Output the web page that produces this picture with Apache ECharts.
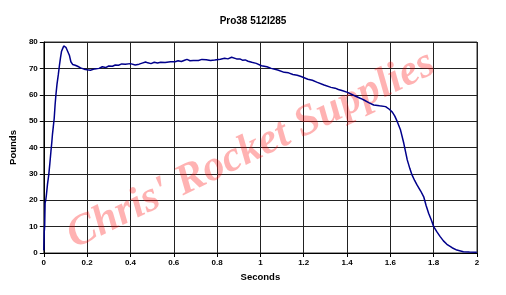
<!DOCTYPE html>
<html>
<head>
<meta charset="utf-8">
<script src="https://cdn.jsdelivr.net/npm/echarts@6/dist/echarts.min.js"></script>
<style>html,body{margin:0;padding:0;background:#fff}#c{width:506px;height:295px}</style>
</head>
<body>
<div id="c"></div>
<script>
var titleText = "Pro38 512I285";
var xName = "Seconds";
var yName = "Pounds";
var watermark = "Chris' Rocket Supplies";
var xTicks = [0, 0.2, 0.4, 0.6, 0.8, 1, 1.2, 1.4, 1.6, 1.8, 2];
var yTicks = [0, 10, 20, 30, 40, 50, 60, 70, 80];
var times = [0.000, 0.002, 0.004, 0.006, 0.009, 0.012, 0.017, 0.023, 0.028, 0.033, 0.037, 0.040, 0.044, 0.048, 0.052, 0.056, 0.061, 0.067, 0.072, 0.077, 0.082, 0.087, 0.092, 0.097, 0.102, 0.110, 0.118, 0.125, 0.133, 0.145, 0.156, 0.170, 0.186, 0.200, 0.215, 0.235, 0.255, 0.270, 0.285, 0.300, 0.317, 0.330, 0.345, 0.360, 0.376, 0.400, 0.422, 0.440, 0.454, 0.470, 0.480, 0.495, 0.510, 0.525, 0.540, 0.560, 0.585, 0.606, 0.620, 0.635, 0.650, 0.661, 0.675, 0.690, 0.714, 0.730, 0.750, 0.770, 0.789, 0.815, 0.835, 0.850, 0.867, 0.890, 0.905, 0.917, 0.930, 0.943, 0.960, 0.981, 1.005, 1.030, 1.050, 1.080, 1.110, 1.130, 1.150, 1.170, 1.188, 1.219, 1.240, 1.260, 1.294, 1.326, 1.345, 1.360, 1.380, 1.402, 1.430, 1.463, 1.478, 1.500, 1.523, 1.550, 1.578, 1.595, 1.609, 1.620, 1.632, 1.647, 1.662, 1.678, 1.690, 1.700, 1.712, 1.723, 1.740, 1.754, 1.765, 1.777, 1.790, 1.800, 1.815, 1.830, 1.845, 1.861, 1.885, 1.907, 1.937, 1.965, 1.999];
var pounds = [1, 8, 10, 19, 20, 22, 26, 29.7, 34, 38.6, 42, 45, 48, 51, 56, 60, 64, 67.6, 71, 74, 76.5, 77.5, 78.5, 78.6, 78, 76.5, 75, 72.5, 71.5, 71.2, 70.8, 70.2, 69.7, 69.5, 69.3, 69.8, 70, 70.6, 70.3, 70.9, 70.8, 71.3, 71.2, 71.7, 71.6, 71.8, 71.3, 71.6, 72, 72.4, 72.1, 71.8, 72.3, 72.0, 72.3, 72.2, 72.5, 72.5, 72.9, 72.6, 73.1, 73.4, 72.9, 73.0, 73.0, 73.4, 73.3, 73.0, 73.2, 73.5, 73.8, 73.6, 74.2, 73.6, 73.6, 73.1, 73.2, 72.7, 72.3, 71.9, 71.0, 70.6, 70.0, 69.4, 68.5, 68.3, 67.7, 67.4, 66.9, 65.9, 65.5, 64.8, 63.7, 62.8, 62.5, 62.0, 61.5, 60.9, 59.8, 58.6, 58.0, 57.0, 56.1, 55.8, 55.5, 54.5, 53.4, 52.0, 49.8, 46.6, 41.6, 35.3, 32.0, 29.6, 27.5, 25.8, 23.5, 21.3, 18.0, 15.0, 12.3, 10.0, 8.0, 6.2, 4.6, 3.3, 2.0, 1.1, 0.5, 0.4, 0.3];

var data = times.map(function (t, i) { return [t, pounds[i]]; });
var chart = echarts.init(document.getElementById('c'), null, {renderer: 'canvas'});
var fontFam = '"Liberation Sans", Arial, sans-serif';
chart.setOption({
  animation: false,
  backgroundColor: '#fff',
  title: {
    text: titleText, left: 'center', top: 11,
    textStyle: {fontFamily: fontFam, fontSize: 10, fontWeight: 'bold', color: '#000'}
  },
  grid: {left: 41, right: 29, top: 42, bottom: 42, show: true, borderColor: '#333', borderWidth: 1},
  xAxis: {
    type: 'value', min: xTicks[0], max: xTicks[xTicks.length - 1], interval: 0.2,
    name: xName, nameLocation: 'middle', nameGap: 19,
    nameTextStyle: {fontFamily: fontFam, fontSize: 9.5, fontWeight: 'bold', color: '#000'},
    axisLine: {show: true, lineStyle: {color: '#000', width: 1}},
    axisTick: {show: true, length: 4, lineStyle: {color: '#000'}},
    axisLabel: {fontFamily: fontFam, fontSize: 8, fontWeight: 'bold', color: '#000', margin: 6,
      formatter: function (v) { return String(parseFloat(v.toFixed(1))); }},
    splitLine: {show: true, lineStyle: {color: '#222', width: 1}}
  },
  yAxis: {
    type: 'value', min: yTicks[0], max: yTicks[yTicks.length - 1], interval: 10,
    name: yName, nameLocation: 'middle', nameGap: 22, nameRotate: 90,
    nameTextStyle: {fontFamily: fontFam, fontSize: 9.5, fontWeight: 'bold', color: '#000'},
    axisLine: {show: true, lineStyle: {color: '#000', width: 1}},
    axisTick: {show: true, length: 4, lineStyle: {color: '#000'}},
    axisLabel: {fontFamily: fontFam, fontSize: 8, fontWeight: 'bold', color: '#000', margin: 6},
    splitLine: {show: true, lineStyle: {color: '#222', width: 1}}
  },
  graphic: [{
    type: 'text',
    rotation: 26 * Math.PI / 180,
    x: 251, y: 150,
    z: 10,
    style: {
      text: watermark, x: 0, y: 0, align: 'center', verticalAlign: 'middle',
      font: 'italic bold 43px "Liberation Serif", "Times New Roman", serif',
      fill: 'rgba(255,0,0,0.3)'
    }
  }],
  series: [{
    type: 'line', data: data, showSymbol: false, symbol: 'none', z: 20,
    lineStyle: {color: '#00008b', width: 1.5}
  }]
});
</script>
</body>
</html>
